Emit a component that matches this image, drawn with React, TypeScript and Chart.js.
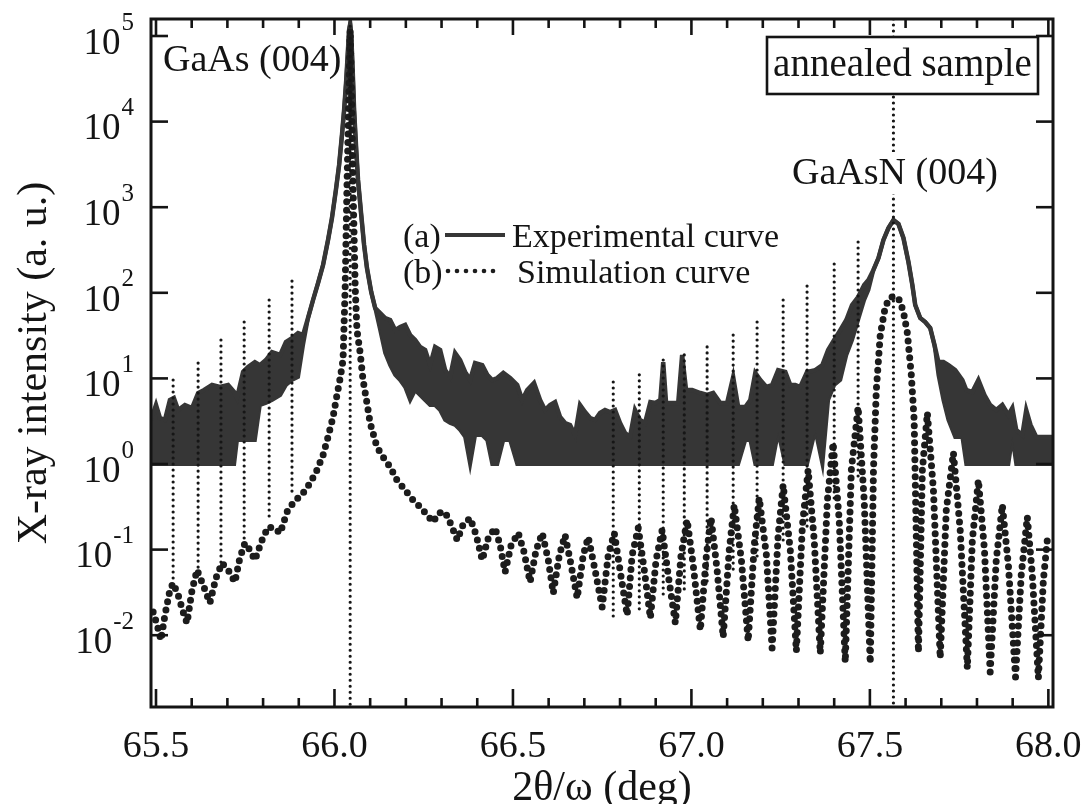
import React, { useEffect, useRef } from 'react';
import { Chart, registerables } from 'chart.js';

Chart.register(...registerables);

// ---------------- data ----------------
const expX = [
  65.486, 65.500, 65.511, 65.525, 65.539, 65.550, 65.562, 65.581, 65.601, 65.618,
  65.635, 65.657, 65.679, 65.702, 65.719, 65.727, 65.744, 65.758, 65.777, 65.791,
  65.808, 65.825, 65.848, 65.864, 65.881, 65.898, 65.912, 65.926, 65.940, 65.954,
  65.968, 65.982, 65.993, 66.004, 66.013, 66.021, 66.027, 66.033, 66.037, 66.041,
  66.044, 66.047, 66.051, 66.055, 66.061, 66.066, 66.075, 66.083, 66.091, 66.103,
  66.114, 66.128, 66.142, 66.156, 66.170, 66.184, 66.198, 66.212, 66.226, 66.240,
  66.254, 66.268, 66.282, 66.296, 66.310, 66.324, 66.338, 66.352, 66.366, 66.380,
  66.394, 66.414, 66.428, 66.442, 66.456, 66.473, 66.492, 66.512, 66.526, 66.540,
  66.559, 66.576, 66.590, 66.604, 66.618, 66.632, 66.646, 66.660, 66.674, 66.688,
  66.702, 66.716, 66.730, 66.744, 66.758, 66.772, 66.786, 66.800, 66.814, 66.828,
  66.842, 66.856, 66.870, 66.885, 66.899, 66.913, 66.921, 66.929, 66.946, 66.963,
  66.974, 66.985, 67.002, 67.025, 67.044, 67.061, 67.081, 67.100, 67.117, 67.131,
  67.151, 67.165, 67.179, 67.193, 67.210, 67.226, 67.243, 67.263, 67.277, 67.291,
  67.305, 67.324, 67.347, 67.367, 67.383, 67.400, 67.417, 67.434, 67.450, 67.467,
  67.484, 67.496, 67.510, 67.524, 67.538, 67.552, 67.566, 67.580, 67.594, 67.608,
  67.619, 67.627, 67.641, 67.655, 67.669, 67.681, 67.692, 67.706, 67.720, 67.739,
  67.759, 67.770, 67.787, 67.804, 67.821, 67.837, 67.854, 67.871, 67.888, 67.899,
  67.910, 67.927, 67.938, 67.950, 67.966, 67.983, 68.000, 68.014,
];

const expHigh = [
  3.27, 4.89, 3.45, 3.27, 5.59, 5.90, 4.27, 4.89, 4.51, 6.75,
  7.32, 8.37, 7.94, 8.37, 6.93, 5.90, 11.9, 13.6, 15.5, 14.3,
  16.4, 20.3, 18.8, 26.6, 29.6, 33.9, 32.1, 50.8, 82.4, 130,
  211, 414, 748, 1590, 3110, 6970, 13670, 30600, 60000, 117500,
  138000, 102800, 40100, 13670, 4660, 2080, 811, 362, 195, 102,
  66.4, 58, 50.8, 48.1, 36.7, 39.8, 42.1, 32.1, 28.1, 23.3,
  21.5, 14.3, 23.3, 21.5, 12.5, 10.4, 19.8, 16.4, 11.9, 9.58,
  15.1, 14.3, 11.0, 9.58, 10.1, 11.6, 10.1, 8.37, 5.59, 7.32,
  8.84, 5.59, 4.27, 4.89, 5.30, 3.54, 3.01, 2.86, 2.18, 4.89,
  4.05, 3.45, 3.27, 3.94, 4.27, 4.05, 4.27, 3.01, 2.30, 2.07,
  4.27, 3.27, 3.01, 5.30, 5.16, 5.59, 15.5, 5.16, 5.16, 5.16,
  18.8, 7.32, 7.32, 6.75, 6.40, 6.75, 5.16, 5.16, 10.4, 4.63,
  4.63, 5.59, 11.6, 9.58, 7.94, 8.37, 12.5, 11.9, 8.37, 8.37,
  7.94, 11.9, 12.5, 14.3, 21.5, 28.1, 36.7, 48.1, 72, 89.3,
  123, 141, 185, 255, 414, 571, 708, 637, 437, 229,
  123, 72, 50.8, 45.6, 38.8, 24.5, 15.5, 15.5, 14.3, 12.5,
  9.58, 7.32, 6.93, 9.58, 6.40, 4.89, 4.27, 4.89, 3.74, 4.51,
  2.50, 2.18, 4.27, 2.86, 2.07, 2.07, 2.07, 2.07,
];

const expLow = [
  1, 1, 1, 1, 1, 1, 1, 1, 1, 1,
  1, 1, 1, 1, 1, 1.91, 1.91, 1.91, 1.91, 4.89,
  5.16, 5.59, 6.40, 8.37, 9.58, 10.4, 24.5, 50.8, 82.4, 130,
  211, 414, 748, 1590, 3110, 6970, 13670, 30600, 60000, 117500,
  138000, 102800, 40100, 13670, 4660, 2080, 811, 362, 195, 102,
  66.4, 36.7, 19.8, 14.3, 11.0, 9.58, 7.94, 5.59, 7.32, 6.40,
  5.59, 4.89, 4.89, 4.27, 3.27, 3.01, 2.86, 2.50, 2.07, 1,
  2.18, 2.18, 1.91, 1, 1, 1.91, 1.91, 1, 1, 1,
  1, 1, 1, 1, 1, 1, 1, 1, 1, 1,
  1, 1, 1, 1, 1, 1, 1, 1, 1, 1,
  1, 1, 1, 1, 1, 1, 1, 1, 1, 1,
  1, 1, 1, 1, 1, 1, 1, 1, 1, 1,
  1.91, 1.91, 1, 1, 1, 1, 2.37, 1, 1, 1,
  1, 1, 2.50, 1, 5.59, 8.37, 9.58, 18.8, 28.1, 48.1,
  82.4, 108, 185, 255, 414, 571, 708, 637, 437, 229,
  123, 72, 50.8, 45.6, 38.8, 24.5, 11.0, 5.59, 3.27, 2.07,
  2.07, 1, 1, 1, 1, 1, 1, 1, 1, 2.07,
  1, 1, 1, 1, 1, 1, 1, 1,
];

const simX = [
  65.492, 65.503, 65.514, 65.525, 65.539, 65.548, 65.562, 65.576, 65.587, 65.601,
  65.615, 65.632, 65.651, 65.668, 65.685, 65.702, 65.721, 65.735, 65.749, 65.763,
  65.777, 65.797, 65.814, 65.831, 65.848, 65.867, 65.884, 65.898, 65.912, 65.932,
  65.951, 65.968, 65.982, 65.996, 66.007, 66.016, 66.024, 66.030, 66.035, 66.040,
  66.044, 66.048, 66.052, 66.058, 66.063, 66.072, 66.080, 66.091, 66.100, 66.119,
  66.136, 66.156, 66.175, 66.198, 66.220, 66.240, 66.260, 66.276, 66.293, 66.310,
  66.327, 66.344, 66.360, 66.380, 66.397, 66.414, 66.431, 66.450, 66.464, 66.478,
  66.495, 66.515, 66.531, 66.548, 66.565, 66.582, 66.599, 66.613, 66.630, 66.646,
  66.663, 66.680, 66.697, 66.711, 66.730, 66.750, 66.767, 66.784, 66.800, 66.820,
  66.834, 66.851, 66.868, 66.885, 66.901, 66.918, 66.935, 66.955, 66.971, 66.988,
  67.005, 67.025, 67.042, 67.055, 67.072, 67.089, 67.106, 67.120, 67.140, 67.159,
  67.176, 67.190, 67.210, 67.226, 67.243, 67.257, 67.277, 67.294, 67.311, 67.327,
  67.344, 67.361, 67.381, 67.397, 67.414, 67.431, 67.448, 67.467, 67.484, 67.501,
  67.510, 67.518, 67.529, 67.543, 67.555, 67.569, 67.583, 67.594, 67.605, 67.616,
  67.624, 67.636, 67.647, 67.661, 67.678, 67.697, 67.714, 67.734, 67.753, 67.773,
  67.787, 67.804, 67.821, 67.837, 67.854, 67.871, 67.888, 67.908, 67.924, 67.941,
  67.955, 67.972, 67.986, 67.997, 68.011,
];

const simY = [
  0.0187, 0.0132, 0.00879, 0.0172, 0.0337, 0.0407, 0.0295, 0.0187, 0.0139, 0.0337,
  0.0578, 0.0386, 0.0238, 0.0466, 0.0697, 0.0578, 0.0418, 0.0798, 0.119, 0.0989,
  0.0756, 0.129, 0.184, 0.179, 0.156, 0.275, 0.350, 0.401, 0.458, 0.600,
  0.851, 1.27, 2.07, 3.54, 6.40, 10.1, 16.4, 117, 1720, 17900,
  117500, 17900, 1720, 117, 36.7, 19.8, 9.58, 5.16, 3.01, 1.58,
  1.21, 0.923, 0.650, 0.497, 0.380, 0.315, 0.254, 0.210, 0.268, 0.275,
  0.194, 0.129, 0.194, 0.234, 0.148, 0.0756, 0.137, 0.179, 0.113, 0.0547,
  0.113, 0.156, 0.0938, 0.0418, 0.0989, 0.156, 0.0756, 0.0311, 0.0865, 0.148,
  0.0661, 0.0272, 0.0865, 0.140, 0.0578, 0.0213, 0.0865, 0.156, 0.0578, 0.0172,
  0.0865, 0.179, 0.0578, 0.0159, 0.0756, 0.169, 0.0505, 0.0139, 0.0865, 0.222,
  0.0661, 0.0115, 0.0865, 0.234, 0.0578, 0.00953, 0.0989, 0.332, 0.0756, 0.00856,
  0.113, 0.401, 0.0865, 0.00708, 0.148, 0.569, 0.0989, 0.00654, 0.194, 0.851,
  0.129, 0.00619, 0.380, 1.76, 0.222, 0.00486, 0.851, 4.63, 0.380, 0.00473,
  0.851, 7.32, 32.1, 68.2, 87, 91.8, 82.4, 59.7, 33.9, 11.0,
  3.27, 0.00637, 0.851, 3.94, 0.497, 0.00542, 0.290, 1.35, 0.169, 0.00414,
  0.129, 0.650, 0.0989, 0.00372, 0.0756, 0.332, 0.0661, 0.00325, 0.0505, 0.240,
  0.0505, 0.00316, 0.0441, 0.129, 0.148,
];

// dotted guide lines: x position, upper end, lower end
const markerX = [65.548, 65.618, 65.682, 65.747, 65.817, 65.881, 66.044, 66.781, 66.854, 66.921, 66.980, 67.044, 67.117, 67.184, 67.257, 67.324, 67.400, 67.467, 67.566];
const markerTop = [9.58, 15.1, 28.1, 45.6, 82.4, 137, 130000, 9.08, 11.0, 16.4, 18.8, 23.3, 32.1, 45.6, 82.4, 120, 217, 392, 158000];
const markerBottom = [0.0407, 0.0578, 0.0697, 0.119, 0.222, 0.411, 0.00145, 0.0151, 0.0182, 0.0258, 0.0311, 0.0386, 0.0533, 0.0756, 0.129, 0.184, 0.360, 0.686, 0.00145];

const xTickValues = [65.5, 66.0, 66.5, 67.0, 67.5, 68.0];
const xTickLabels = ['65.5', '66.0', '66.5', '67.0', '67.5', '68.0'];
const xMinorTicks = [65.6, 65.7, 65.8, 65.9, 66.1, 66.2, 66.3, 66.4, 66.6, 66.7, 66.8, 66.9, 67.1, 67.2, 67.3, 67.4, 67.6, 67.7, 67.8, 67.9];
const yTickValues = [0.01, 0.1, 1, 10, 100, 1000, 10000, 100000];
const yTickExponents = ['-2', '-1', '0', '1', '2', '3', '4', '5'];

const X_MIN = 65.486;
const X_MAX = 68.013;
const Y_MIN = 0.00145;
const Y_MAX = 158000;

// ---------------- style ----------------
const FONT = '"Liberation Serif", "Times New Roman", "DejaVu Serif", serif';
const INK = '#141414';
const EXP_COLOR = '#363636';
const SIM_COLOR = '#1c1c1c';

const decorPlugin = {
  id: 'decor',
  beforeDraw(chart: any) {
    const ctx = chart.ctx;
    ctx.save();
    ctx.fillStyle = '#ffffff';
    ctx.fillRect(0, 0, chart.width, chart.height);
    ctx.restore();
  },
  afterDatasetsDraw(chart: any) {
    const { ctx, chartArea: a, scales } = chart;
    const xs = scales.x;
    const ys = scales.y;
    ctx.save();

    const line = (x1: number, y1: number, x2: number, y2: number) => {
      ctx.beginPath();
      ctx.moveTo(x1, y1);
      ctx.lineTo(x2, y2);
      ctx.stroke();
    };

    // annotation box
    ctx.fillStyle = '#ffffff';
    ctx.fillRect(767, 37, 271, 57);
    ctx.strokeStyle = INK;
    ctx.lineWidth = 2.6;
    ctx.strokeRect(767, 37, 271, 57);
    ctx.fillStyle = INK;
    ctx.font = `39px ${FONT}`;
    ctx.textAlign = 'center';
    ctx.textBaseline = 'alphabetic';
    ctx.fillText('annealed sample', 902.5, 76);

    // peak labels
    ctx.font = `38px ${FONT}`;
    ctx.textAlign = 'left';
    const nW = ctx.measureText('GaAsN (004)').width;
    ctx.fillStyle = '#ffffff';
    ctx.fillRect(790, 152, nW + 4, 42);
    ctx.fillStyle = INK;
    ctx.fillText('GaAsN (004)', 792, 184);
    ctx.fillText('GaAs (004)', 163, 71);

    // legend
    ctx.font = `34px ${FONT}`;
    ctx.fillText('(a)', 403, 247);
    ctx.fillText('Experimental curve', 512, 247);
    ctx.fillText('(b)', 403, 283);
    ctx.fillText('Simulation curve', 517, 283);
    ctx.strokeStyle = EXP_COLOR;
    ctx.lineWidth = 4;
    line(445, 235, 505, 235);
    ctx.fillStyle = SIM_COLOR;
    for (let i = 0; i < 6; i++) {
      ctx.beginPath();
      ctx.arc(448 + i * 9, 271, 2.3, 0, Math.PI * 2);
      ctx.fill();
    }

    // frame
    ctx.strokeStyle = INK;
    ctx.lineWidth = 3;
    ctx.strokeRect(a.left, a.top, a.right - a.left, a.bottom - a.top);

    // x ticks
    ctx.lineWidth = 2.6;
    for (const v of xTickValues) {
      const px = xs.getPixelForValue(v);
      line(px, a.bottom, px, a.bottom - 18);
      line(px, a.top, px, a.top + 16);
    }
    for (const v of xMinorTicks) {
      const px = xs.getPixelForValue(v);
      line(px, a.bottom, px, a.bottom - 9);
      line(px, a.top, px, a.top + 9);
    }
    // y ticks
    for (const v of yTickValues) {
      const py = ys.getPixelForValue(v);
      line(a.left, py, a.left + 17, py);
      line(a.right, py, a.right - 17, py);
    }

    // x tick labels
    ctx.fillStyle = INK;
    ctx.font = `38px ${FONT}`;
    ctx.textAlign = 'center';
    ctx.textBaseline = 'alphabetic';
    xTickValues.forEach((v, i) => {
      ctx.fillText(xTickLabels[i], xs.getPixelForValue(v), 757);
    });

    // y tick labels: 10 with superscript exponent
    const R = 134;
    ctx.textAlign = 'right';
    ctx.textBaseline = 'middle';
    yTickValues.forEach((v, i) => {
      const py = ys.getPixelForValue(v);
      ctx.font = `25px ${FONT}`;
      const ew = ctx.measureText(yTickExponents[i]).width;
      ctx.fillText(yTickExponents[i], R, py - 13);
      ctx.font = `37px ${FONT}`;
      ctx.fillText('10', R - ew - 1, py + 8);
    });

    // axis titles
    ctx.font = `42px ${FONT}`;
    ctx.textAlign = 'center';
    ctx.textBaseline = 'alphabetic';
    ctx.fillText('2θ/ω (deg)', (a.left + a.right) / 2, 800);
    ctx.save();
    ctx.translate(46, 363);
    ctx.rotate(-Math.PI / 2);
    ctx.fillText('X-ray intensity (a. u.)', 0, 0);
    ctx.restore();

    ctx.restore();
  },
};

export default function App() {
  const ref = useRef<HTMLCanvasElement>(null);

  useEffect(() => {
    if (!ref.current) return;
    const expLowData = expX.map((x, i) => ({ x, y: expLow[i] }));
    const expHighData = expX.map((x, i) => ({ x, y: expHigh[i] }));
    const simData = simX.map((x, i) => ({ x, y: simY[i] }));
    const markerData: { x: number; y: number | null }[] = [];
    markerX.forEach((x, i) => {
      markerData.push({ x, y: markerTop[i] });
      markerData.push({ x, y: markerBottom[i] });
      markerData.push({ x, y: null });
    });

    const chart = new Chart(ref.current, {
      type: 'line',
      data: {
        datasets: [
          {
            label: 'Experimental (lower)',
            data: expLowData,
            borderColor: EXP_COLOR,
            borderWidth: 4,
            pointRadius: 0,
            fill: false,
            order: 5,
          },
          {
            label: 'Experimental curve',
            data: expHighData,
            borderColor: EXP_COLOR,
            backgroundColor: EXP_COLOR,
            borderWidth: 4.5,
            pointRadius: 0,
            fill: '-1',
            order: 4,
          },
          {
            label: 'Simulation curve',
            data: simData,
            borderColor: SIM_COLOR,
            borderWidth: 7,
            borderDash: [0, 8.5],
            borderCapStyle: 'round',
            pointRadius: 0,
            fill: false,
            order: 3,
          },
          {
            label: 'markers',
            data: markerData,
            borderColor: '#161616',
            borderWidth: 3.2,
            borderDash: [0, 6],
            borderCapStyle: 'round',
            pointRadius: 0,
            fill: false,
            spanGaps: false,
            order: 1,
          },
        ] as any,
      },
      options: {
        animation: false,
        responsive: false,
        events: [],
        layout: { padding: { left: 151, top: 19, right: 33, bottom: 97 } },
        elements: { line: { tension: 0 }, point: { radius: 0 } },
        scales: {
          x: { type: 'linear', min: X_MIN, max: X_MAX, display: false },
          y: { type: 'logarithmic', min: Y_MIN, max: Y_MAX, display: false },
        },
        plugins: {
          legend: { display: false },
          tooltip: { enabled: false },
          title: { display: false },
        },
      } as any,
      plugins: [decorPlugin],
    });
    return () => chart.destroy();
  }, []);

  return (
    <div style={{ position: 'absolute', left: 0, top: 0, width: 1086, height: 804, background: '#ffffff' }}>
      <canvas ref={ref} width={1086} height={804} style={{ display: 'block', width: 1086, height: 804 }} />
    </div>
  );
}
